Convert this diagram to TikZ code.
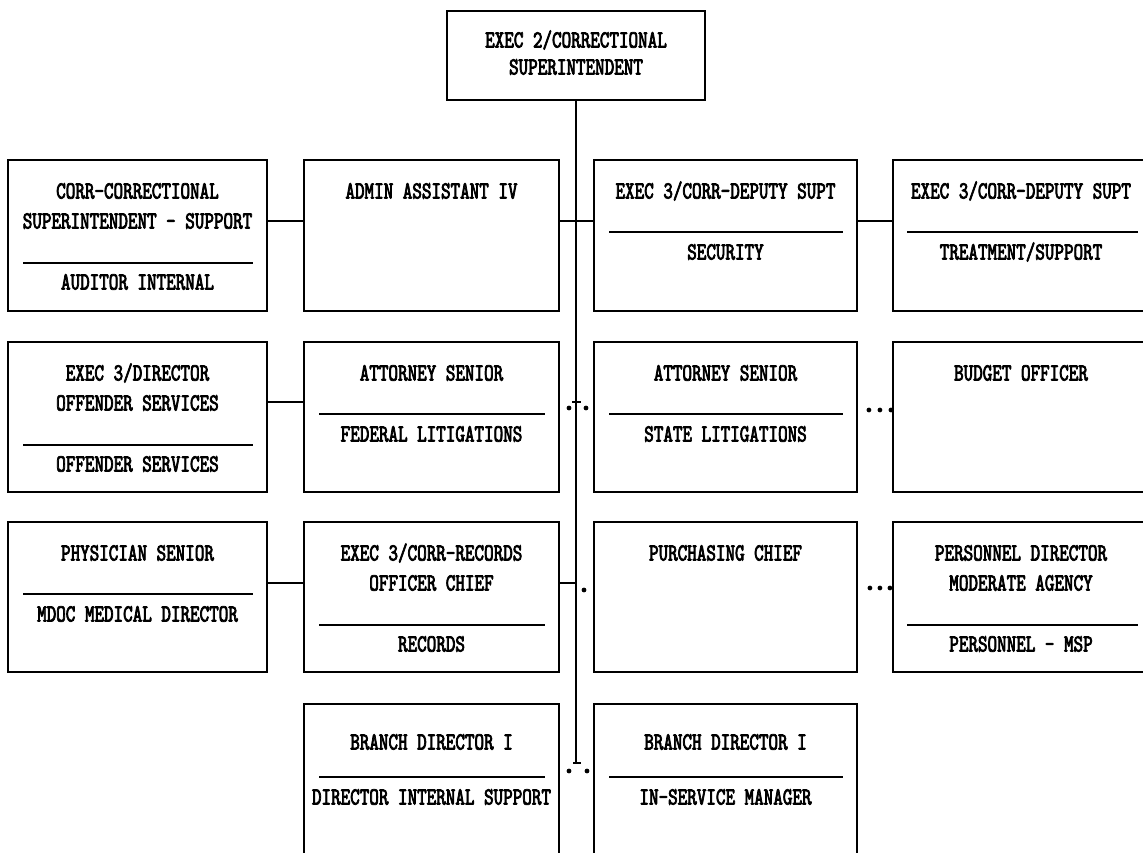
\documentclass[tikz,border=0pt]{standalone}
\usepackage{fontspec}
\newfontfamily\orgfont{lmmono10-regular}[Extension=.otf, FakeStretch=0.74, FakeBold=3]
\usetikzlibrary{fit,calc}
\tikzset{
  box/.style={draw, line width=1.3pt, inner sep=0pt},
  lbl/.style={font=\orgfont\fontsize{17.5}{19}\selectfont, inner sep=0pt},
  blob/.style={fill=black}
}
\begin{document}
\begin{tikzpicture}[x=0.025cm, y=-0.025cm, line width=1.3pt] % Organigramm Superintendent
\useasboundingbox (0,0) rectangle (1143,853);
\clip (0,0) rectangle (1143,853);
% Spitze
\node[box, fit={(447,11) (705,100)}] (sup) {};
\node[lbl] (sup1) at (576,40) {EXEC 2/CORRECTIONAL};
\node[lbl] (sup2) at (576,67) {SUPERINTENDENT};
\coordinate (r1) at (576,221);
\coordinate (r2) at (576,402);
\coordinate (r3) at (576,583);
\coordinate (tend) at (576,763);
\draw (sup.south) -- (tend);

% Reihe 1
\node[box, fit={(8,160) (267,311)}] (corr) {};
\node[lbl] (corr1) at (137.5,191) {CORR-CORRECTIONAL};
\node[lbl] (corr2) at (137.5,221) {SUPERINTENDENT - SUPPORT};
\draw (23,263) -- (253,263);
\node[lbl] (corr3) at (137.5,282) {AUDITOR INTERNAL};

\node[box, fit={(304,160) (559,311)}] (admin) {};
\node[lbl] (admin1) at (431.5,191) {ADMIN ASSISTANT IV};

\node[box, fit={(594,160) (857,311)}] (secu) {};
\node[lbl] (secu1) at (725.5,191) {EXEC 3/CORR-DEPUTY SUPT};
\draw (609,232) -- (843,232);
\node[lbl] (secu2) at (725.5,252) {SECURITY};

\node[box, fit={(893,160) (1150,311)}] (treat) {};
\node[lbl] (treat1) at (1021,191) {EXEC 3/CORR-DEPUTY SUPT};
\draw (907,232) -- (1138,232);
\node[lbl] (treat2) at (1021,252) {TREATMENT/SUPPORT};

\draw (corr.east |- r1) -- (admin.west |- r1);
\draw (admin.east |- r1) -- (secu.west |- r1);
\draw (secu.east |- r1) -- (treat.west |- r1);

% Reihe 2
\node[box, fit={(8,342) (267,492)}] (offsvc) {};
\node[lbl] (offsvc1) at (137.5,373) {EXEC 3/DIRECTOR};
\node[lbl] (offsvc2) at (137.5,403) {OFFENDER SERVICES};
\draw (23,445) -- (253,445);
\node[lbl] (offsvc3) at (137.5,464) {OFFENDER SERVICES};

\node[box, fit={(304,342) (559,492)}] (attfed) {};
\node[lbl] (attfed1) at (431.5,373) {ATTORNEY SENIOR};
\draw (319,414) -- (545,414);
\node[lbl] (attfed2) at (431.5,434) {FEDERAL LITIGATIONS};

\node[box, fit={(594,342) (857,492)}] (attst) {};
\node[lbl] (attst1) at (725.5,373) {ATTORNEY SENIOR};
\draw (609,414) -- (843,414);
\node[lbl] (attst2) at (725.5,434) {STATE LITIGATIONS};

\node[box, fit={(893,342) (1150,492)}] (budget) {};
\node[lbl] (budget1) at (1021,373) {BUDGET OFFICER};

\draw (offsvc.east |- r2) -- (attfed.west |- r2);
\draw ($(r2)+(-4,0)$) -- ($(r2)+(5,0)$);
\fill[blob] ($(r2)+(-7,6)$) circle (1.7pt) ($(r2)+(10,6)$) circle (1.7pt);
\foreach \d in {11,22,33}
  \fill[blob] ($(attst.east |- r2)+(\d,8)$) circle (1.7pt);

% Reihe 3
\node[box, fit={(8,522) (267,672)}] (phys) {};
\node[lbl] (phys1) at (137.5,553) {PHYSICIAN SENIOR};
\draw (23,594) -- (253,594);
\node[lbl] (phys2) at (137.5,614) {MDOC MEDICAL DIRECTOR};

\node[box, fit={(304,522) (559,672)}] (records) {};
\node[lbl] (records1) at (431.5,553) {EXEC 3/CORR-RECORDS};
\node[lbl] (records2) at (431.5,583) {OFFICER CHIEF};
\draw (319,625) -- (545,625);
\node[lbl] (records3) at (431.5,644) {RECORDS};

\node[box, fit={(594,522) (857,672)}] (purch) {};
\node[lbl] (purch1) at (725.5,553) {PURCHASING CHIEF};

\node[box, fit={(893,522) (1150,672)}] (pers) {};
\node[lbl] (pers1) at (1021,553) {PERSONNEL DIRECTOR};
\node[lbl] (pers2) at (1021,583) {MODERATE AGENCY};
\draw (907,625) -- (1138,625);
\node[lbl] (pers3) at (1021,644) {PERSONNEL - MSP};

\draw (phys.east |- r3) -- (records.west |- r3);
\draw (records.east |- r3) -- (r3);
\fill[blob] ($(r3)+(8,7)$) circle (1.7pt);
\foreach \d in {12,22,32}
  \fill[blob] ($(purch.east |- r3)+(\d,5)$) circle (1.7pt);

% Reihe 4
\node[box, fit={(304,704) (559,880)}] (brint) {};
\node[lbl] (brint1) at (431.5,742) {BRANCH DIRECTOR I};
\draw (319,777) -- (545,777);
\node[lbl] (brint2) at (431.5,797) {DIRECTOR INTERNAL SUPPORT};

\node[box, fit={(594,704) (857,880)}] (brsvc) {};
\node[lbl] (brsvc1) at (725.5,742) {BRANCH DIRECTOR I};
\draw (609,777) -- (843,777);
\node[lbl] (brsvc2) at (725.5,797) {IN-SERVICE MANAGER};

\draw ($(tend)+(-3,0)$) -- ($(tend)+(5,0)$);
\fill[blob] ($(tend)+(-7,8)$) circle (1.7pt) ($(tend)+(11,8)$) circle (1.7pt);
\end{tikzpicture}
\end{document}
